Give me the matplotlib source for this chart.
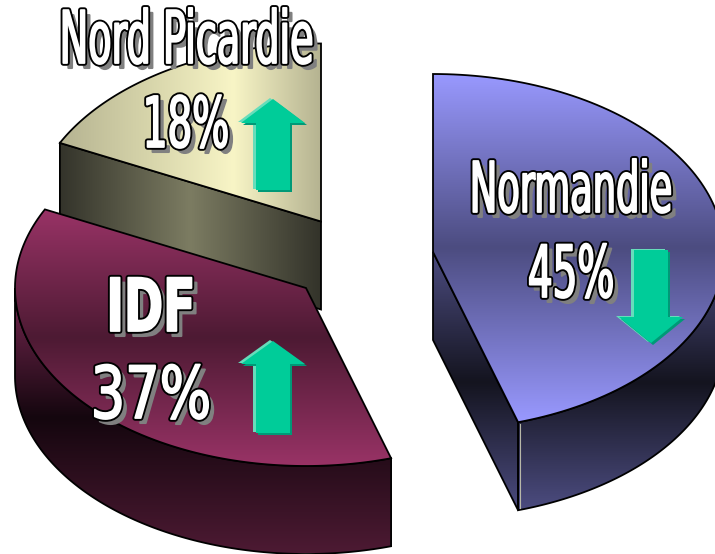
import numpy as np
import matplotlib
matplotlib.use('Agg')
import matplotlib.pyplot as plt
from matplotlib.colors import LinearSegmentedColormap
from matplotlib.patches import Polygon
from matplotlib.transforms import Affine2D
import matplotlib.patheffects as pe

# Datos
regions = ['Normandie', 'IDF', 'Nord Picardie']
shares = [45, 37, 18]
pct_labels = ['45%', '37%', '18%']

# Geometria del pie 3D (pixeles)
RX, RY = 291, 178
DEPTH = 88
centres = {'Normandie': (433, 252), 'IDF': (306, 288), 'Nord Picardie': (321, 221.5)}

# Angulos en sentido horario desde arriba
bounds = 360 * np.cumsum([0] + shares) / 100 + 1
bounds[0] = 0
bounds[-1] = 360
angles = {r: (bounds[i], bounds[i + 1]) for i, r in enumerate(regions)}

top_stops = {
    'Normandie': ['#9999ff', '#4c4c80', '#9999ff'],
    'IDF': ['#993366', '#4d1a33', '#993366'],
    'Nord Picardie': ['#b5b391', '#d6d4aa', '#f8f5c6', '#b5b391'],
}
side_stops = {
    'Normandie': ['#4c4c80', '#14141f', '#4c4c80'],
    'IDF': ['#7d2a55', '#14060e', '#4d1a33'],
    'Nord Picardie': ['#33332a', '#7c7c62', '#33332a'],
}

fig = plt.figure(figsize=(7.15, 5.54), dpi=100)
ax = fig.add_axes([0, 0, 1, 1])
ax.set_xlim(0, 715)
ax.set_ylim(554, 0)
ax.axis('off')


def point(region, t):
    cx, cy = centres[region]
    t = np.radians(t)
    return cx + RX * np.sin(t), cy - RY * np.cos(t)


def arc(region, t0, t1):
    return np.column_stack(point(region, np.linspace(t0, t1, 120)))


def face(pts, stops, extent, horizontal=False):
    # relleno en degradado recortado con el poligono
    cmap = LinearSegmentedColormap.from_list('g', stops)
    grad = np.linspace(0, 1, 256)
    grad = grad[None, :] if horizontal else grad[:, None]
    patch = Polygon(pts, closed=True, fc='none', ec='black', lw=1.3, zorder=ax_z[0] + 1)
    ax.add_patch(patch)
    im = ax.imshow(grad, cmap=cmap, extent=extent, aspect='auto', zorder=ax_z[0], interpolation='bilinear')
    im.set_clip_path(patch)
    ax_z[0] += 2


ax_z = [1]


def draw_slice(region):
    cx, cy = centres[region]
    t0, t1 = angles[region]
    down = np.array([0, DEPTH])
    centre = np.array([cx, cy])

    # caras de corte visibles
    if region == 'Normandie':
        end = np.array(point(region, t1))
        face([centre, end, end + down, centre + down], side_stops[region], (0, 715, cy + 260, cy))
    if region == 'Nord Picardie':
        start = np.array(point(region, t0))
        face([start, centre, centre + down, start + down], side_stops[region], (59, cx, 554, 0), horizontal=True)

    # pared exterior
    a0, a1 = max(t0, 90), min(t1, 270)
    if a0 < a1:
        wall = arc(region, a0, a1)
        pts = np.vstack([wall, (wall + down)[::-1]])
        if region == 'IDF':
            face(pts, side_stops[region], (0, 715, 553, 282))
        else:
            face(pts, side_stops[region], (0, 715, 510, 255))

    # cara superior
    top = np.vstack([centre, arc(region, t0, t1)])
    if region == 'Nord Picardie':
        face(top, top_stops[region], (59, cx, 554, 0), horizontal=True)
    else:
        lo, hi = top[:, 1].min(), top[:, 1].max()
        face(top, top_stops[region], (0, 715, hi, lo))


draw_slice('Nord Picardie')
draw_slice('IDF')
draw_slice('Normandie')

# filo claro de la arista de Normandie
ex, ey = point('Normandie', angles['Normandie'][1])
ax.plot([ex + 1.5, ex + 1.5], [ey + 2, ey + DEPTH - 2], color='#b8b8a8', lw=0.8, zorder=ax_z[0])
ax_z[0] += 1


def arrow(cx, tip, base, head, half_head=32, half_shaft=17):
    # flecha con borde claro y sombra oscura
    pts = np.array([[cx, tip], [cx + half_head, head], [cx + half_shaft, head],
                    [cx + half_shaft, base], [cx - half_shaft, base],
                    [cx - half_shaft, head], [cx - half_head, head]])
    for off, col in [((-3, -1), '#66ddbb'), ((2, 2), '#009977'), ((0, 0), '#00cc99')]:
        ax.add_patch(Polygon(pts + off, closed=True, fc=col, ec='none', zorder=ax_z[0]))
        ax_z[0] += 1


arrow(273, 99, 190, 123)
arrow(273, 341, 433, 364)
arrow(651, 343, 250, 317)


class TallText(pe.AbstractPathEffect):
    # estira el texto en vertical, con sombra y contorno
    def __init__(self, sy):
        super().__init__()
        self.sy = sy

    def draw_path(self, renderer, gc, tpath, affine, rgbFace=None):
        base = Affine2D().scale(1, self.sy) + affine
        shadow = renderer.new_gc()
        shadow.copy_properties(gc)
        shadow.set_foreground('#808080')
        shadow.set_linewidth(1.5)
        renderer.draw_path(shadow, tpath, base + Affine2D().translate(5, -5), (0.5, 0.5, 0.5))
        shadow.restore()
        edge = renderer.new_gc()
        edge.copy_properties(gc)
        edge.set_foreground('black')
        edge.set_linewidth(4.0)
        renderer.draw_path(edge, tpath, base, (1, 1, 1))
        edge.restore()
        inner = renderer.new_gc()
        inner.copy_properties(gc)
        inner.set_foreground('white')
        inner.set_linewidth(1.3)
        renderer.draw_path(inner, tpath, base, (1, 1, 1))
        inner.restore()


def label(x, y, txt, size, sy, weight='normal'):
    ax.text(x, y, txt, fontsize=size, color='white', ha='center', va='baseline', family='DejaVu Sans',
            weight=weight, zorder=ax_z[0], path_effects=[TallText(sy)])


label(187, 63, regions[2], 27.5, 1.9)
label(186, 147, pct_labels[2], 28, 1.8)
label(151, 331, regions[1], 34, 1.55, weight='bold')
label(151, 418, pct_labels[1], 39, 1.33)
label(571, 212, regions[0], 26.5, 1.9)
label(571, 297, pct_labels[0], 28, 1.85)

fig.savefig('out.png', dpi=100, facecolor='white')
